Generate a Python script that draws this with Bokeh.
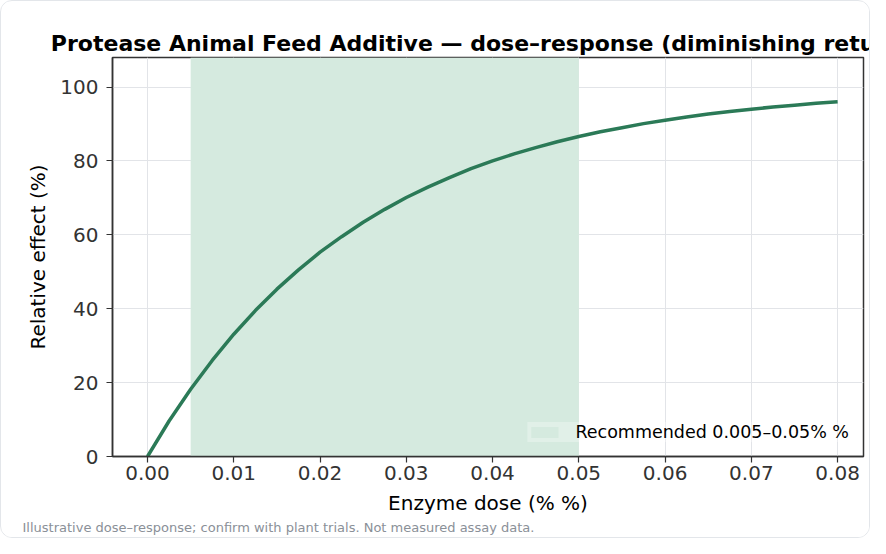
from bokeh.plotting import figure
from bokeh.models import ColumnDataSource, Range1d, FixedTicker, NumeralTickFormatter, Title, Legend, LegendItem
from bokeh.embed import file_html
from bokeh.resources import INLINE

# ---- data ----
dose = [0.0, 0.0025, 0.005, 0.0075, 0.01, 0.0125, 0.015, 0.0175, 0.02, 0.0225,
        0.025, 0.0275, 0.03, 0.0325, 0.035, 0.0375, 0.04, 0.0425, 0.045, 0.0475,
        0.05, 0.0525, 0.055, 0.0575, 0.06, 0.0625, 0.065, 0.0675, 0.07, 0.0725,
        0.075, 0.0775, 0.08]
effect = [0.0, 9.6, 18.2, 26.0, 33.1, 39.5, 45.3, 50.5, 55.3, 59.5,
          63.4, 66.9, 70.1, 72.9, 75.5, 77.9, 80.0, 81.9, 83.6, 85.2,
          86.6, 87.9, 89.0, 90.1, 91.0, 91.9, 92.7, 93.4, 94.0, 94.6,
          95.1, 95.6, 96.0]
rec_low = [0.005]
rec_high = [0.05]
x_ticks = [0.0, 0.01, 0.02, 0.03, 0.04, 0.05, 0.06, 0.07, 0.08]
y_ticks = [0, 20, 40, 60, 80, 100]
x_limits = (-0.00406, 0.083)
y_limits = (0, 108)

title_text = "Protease Animal Feed Additive \u2014 dose\u2013response (diminishing returns)"
x_label = "Enzyme dose (% %)"
y_label = "Relative effect (%)"
legend_text = "Recommended 0.005\u20130.05% %"
footer_text = "Illustrative dose\u2013response; confirm with plant trials. Not measured assay data."

FONT = "DejaVu Sans"
LINE = "#2b7a57"
BAND = "#d5eadf"

p = figure(width=870, height=538, output_backend="svg", toolbar_location=None,
           x_range=Range1d(*x_limits), y_range=Range1d(*y_limits),
           min_border_left=111, min_border_right=8, min_border_top=56, min_border_bottom=83)
p.styles = {"border": "1px solid #e3e6ea", "border-radius": "12px", "overflow": "hidden"}

p.title.text = title_text
p.title.align = "center"
p.title.text_font = FONT
p.title.text_font_size = "22px"
p.title.text_font_style = "bold"
p.title.text_color = "#000000"
p.title.standoff = 4

band_src = ColumnDataSource(dict(left=rec_low, right=rec_high, bottom=[y_limits[0]], top=[y_limits[1]]))
band = p.quad(left="left", right="right", bottom="bottom", top="top", source=band_src,
              fill_color=BAND, line_color=None)

src = ColumnDataSource(dict(x=dose, y=effect))
p.line("x", "y", source=src, line_color=LINE, line_width=3.5)

legend = Legend(items=[LegendItem(label=legend_text, renderers=[band])], location="bottom_right")
legend.label_text_font = FONT
legend.label_text_font_size = "17.5px"
legend.label_text_color = "#000000"
legend.background_fill_color = "#ffffff"
legend.background_fill_alpha = 0.3
legend.border_line_color = None
legend.glyph_width = 34
legend.glyph_height = 14
legend.label_standoff = 14
legend.margin = 14
legend.padding = 2
p.add_layout(legend)

for ax in (p.xaxis[0], p.yaxis[0]):
    ax.major_label_text_font = FONT
    ax.major_label_text_font_size = "20px"
    ax.major_label_text_color = "#333333"
    ax.axis_label_text_font = FONT
    ax.axis_label_text_font_size = "20px"
    ax.axis_label_text_font_style = "normal"
    ax.axis_label_text_color = "#000000"
    ax.axis_line_color = "#333333"
    ax.axis_line_width = 1.5
    ax.major_tick_line_color = "#333333"
    ax.major_tick_line_width = 1.2
    ax.major_tick_out = 6
    ax.major_tick_in = 0
    ax.minor_tick_line_color = None

p.xaxis.ticker = FixedTicker(ticks=x_ticks)
p.xaxis.formatter = NumeralTickFormatter(format="0.00")
p.yaxis.ticker = FixedTicker(ticks=y_ticks)
p.xaxis.axis_label = x_label
p.yaxis.axis_label = y_label
p.xaxis.major_label_standoff = 3
p.yaxis.major_label_standoff = 8
p.xaxis.axis_label_standoff = 8
p.yaxis.axis_label_standoff = 7

p.xgrid.grid_line_color = "#e2e4e8"
p.ygrid.grid_line_color = "#e2e4e8"
p.xgrid.grid_line_width = 1
p.ygrid.grid_line_width = 1

p.outline_line_color = "#333333"
p.outline_line_width = 1.5
p.outline_line_alpha = 1

footer = Title(text=footer_text, align="left", offset=-90, standoff=0,
               text_font=FONT, text_font_size="13px", text_font_style="normal",
               text_color="#8a9098")
p.add_layout(footer, "below")

open("out.html", "w").write(file_html(p, INLINE))
